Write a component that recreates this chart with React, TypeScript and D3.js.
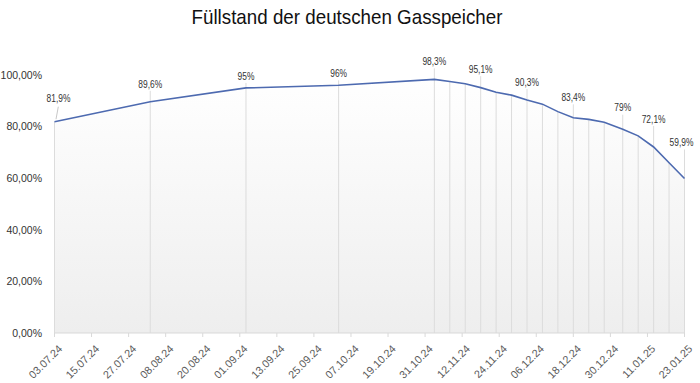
import React from "react";
import * as d3 from "d3";

const pointDates = ["03.07.24","03.08.24","03.09.24","03.10.24","03.11.24","08.11.24","13.11.24","18.11.24","23.11.24","28.11.24","03.12.24","08.12.24","13.12.24","18.12.24","23.12.24","28.12.24","03.01.25","08.01.25","13.01.25","18.01.25","23.01.25"];
const fillValues = [81.9,89.6,95,96,98.3,97.5,96.6,95.1,93.3,92.2,90.3,88.7,85.8,83.4,82.8,81.7,79,76.4,72.1,66,59.9];
const labeledPoints = [true,true,true,true,true,false,false,true,false,false,true,false,false,true,false,false,true,false,true,false,true];
const xTickLabels = ["03.07.24","15.07.24","27.07.24","08.08.24","20.08.24","01.09.24","13.09.24","25.09.24","07.10.24","19.10.24","31.10.24","12.11.24","24.11.24","06.12.24","18.12.24","30.12.24","11.01.25","23.01.25"];
const yTicks = [0,20,40,60,80,100];
// label placement (offsets above the point), kept apart from data
const labelDy = [-23,-18,-12,-12,-18,0,0,-18.5,0,0,-18,0,0,-20.5,0,0,-21.5,0,-28,0,-36];
const labelDx = [4,0,0,0,0,0,0,0,0,0,0,0,0,0,0,0,0,0,0,0,-3];

const W = 700, H = 383;
const FONT = "'Liberation Sans', Arial, sans-serif";

// approximate Arial advance widths (em) used to squeeze labels horizontally
const charW = (c: string) => (/[0-9]/.test(c) ? 0.556 : c === "%" ? 0.889 : 0.278);
const textW = (s: string, fs: number) => s.split("").reduce((a, c) => a + charW(c), 0) * fs;

export default function App() {
  const parse = d3.timeParse("%d.%m.%y");
  const dates = pointDates.map((d) => parse(d) as Date);
  const ticks = xTickLabels.map((d) => parse(d) as Date);
  const x = d3.scaleTime().domain([ticks[0], ticks[ticks.length - 1]]).range([54.5, 684.5]);
  const y = d3.scaleLinear().domain([0, 100]).range([333, 75]);
  const pts = dates.map((d, i) => ({ d, v: fillValues[i], i }));
  const line = d3.line<any>().x((p) => x(p.d)).y((p) => y(p.v));
  const area = d3.area<any>().x((p) => x(p.d)).y0(y(0)).y1((p) => y(p.v));
  const fmtLabel = (v: number) => (Number.isInteger(v) ? `${v}%` : `${String(v).replace(".", ",")}%`);
  const fmtY = (v: number) => `${v.toFixed(2).replace(".", ",")}%`;

  return (
    <svg width={W} height={H} style={{ position: "absolute", left: 0, top: 0, background: "#fff" }}>
      <defs>
        <linearGradient id="areaGrad" gradientUnits="userSpaceOnUse" x1="0" y1={y(100)} x2="0" y2={y(0)}>
          <stop offset="0" stopColor="#ffffff" />
          <stop offset="1" stopColor="#eeeeee" />
        </linearGradient>
      </defs>
      <text x={347} y={24} textAnchor="middle" fontFamily={FONT} fontSize={21} fill="#111" textLength={311} lengthAdjust="spacingAndGlyphs">
        Füllstand der deutschen Gasspeicher
      </text>
      <path d={area(pts) || ""} fill="url(#areaGrad)" />
      {pts.map((p) => {
        const px = x(p.d);
        const py = y(p.v);
        const top = labeledPoints[p.i] && p.i !== 0 ? py + labelDy[p.i] + 7 : py;
        return <line key={"dl" + p.i} x1={px} x2={px} y1={y(0)} y2={top} stroke="#dcdcdc" strokeWidth={1} />;
      })}
      <line x1={x(dates[0]) + 1.5} y1={y(fillValues[0]) - 2.5} x2={x(dates[0]) + 3.8} y2={y(fillValues[0]) + labelDy[0] + 8} stroke="#c8c8c8" strokeWidth={1} />
      <line x1={x(ticks[0])} x2={x(ticks[ticks.length - 1])} y1={y(0)} y2={y(0)} stroke="#d9d9d9" strokeWidth={1} />
      {ticks.map((t, i) => (
        <line key={"tk" + i} x1={x(t)} x2={x(t)} y1={y(0)} y2={y(0) + 4} stroke="#d9d9d9" strokeWidth={1} />
      ))}
      {ticks.map((t, i) => (
        <text key={"xl" + i} transform={`translate(${x(t) + 3},${344}) rotate(-45)`} textAnchor="end" dy="0.72em" fontFamily={FONT} fontSize={10.8} fill="#595959">
          {xTickLabels[i]}
        </text>
      ))}
      {yTicks.map((v) => (
        <text key={"yl" + v} x={42} y={y(v)} dy="0.36em" textAnchor="end" fontFamily={FONT} fontSize={10.5} fill="#333">
          {fmtY(v)}
        </text>
      ))}
      <path d={line(pts) || ""} fill="none" stroke="#4d6ab0" strokeWidth={1.6} />
      {pts.filter((p) => labeledPoints[p.i]).map((p) => {
        const s = fmtLabel(p.v);
        return (
          <text key={"lb" + p.i} x={x(p.d) + labelDx[p.i]} y={y(p.v) + labelDy[p.i]} dy="0.36em" textAnchor="middle" fontFamily={FONT} fontSize={10.5} fill="#333" textLength={textW(s, 10.5) * 0.8} lengthAdjust="spacingAndGlyphs">
            {s}
          </text>
        );
      })}
    </svg>
  );
}
